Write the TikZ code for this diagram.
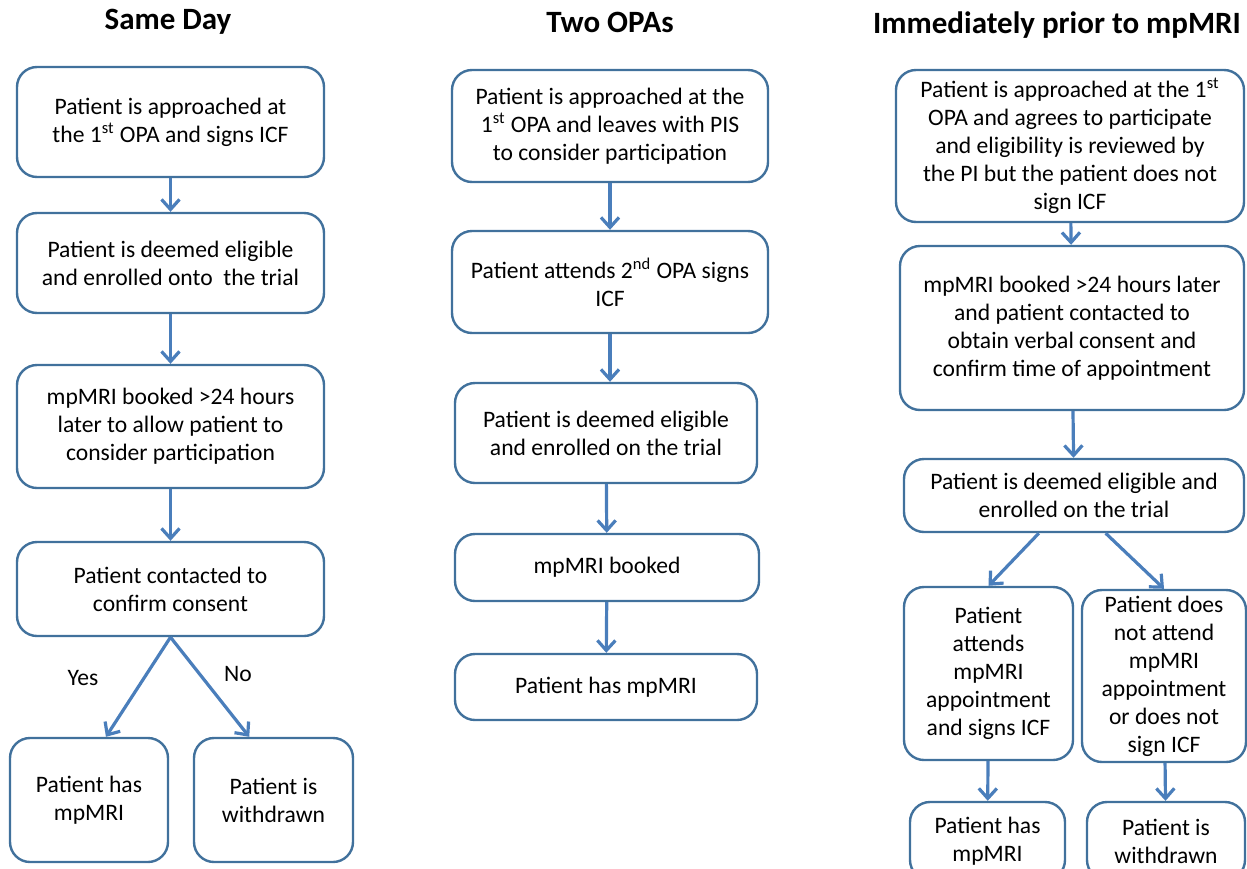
\documentclass[tikz,border=0pt]{standalone}
\usepackage{fontspec}
\setmainfont{Carlito}
\usetikzlibrary{arrows.meta}

\definecolor{boxline}{RGB}{65,113,156}
\definecolor{arrline}{RGB}{74,126,187}

\begin{document}
\begin{tikzpicture}[x=0.5pt,y=-0.5pt,
    box/.style={draw=boxline,line width=1.2pt,rounded corners=10pt,
        align=center,inner sep=2pt,
        font=\fontsize{11.8}{14}\selectfont},
    arr/.style={draw=arrline,line width=1.6pt,
        -{Straight Barb[length=5pt,width=9pt]}},
    title/.style={font=\fontsize{15.5}{18}\selectfont\bfseries},
    lbl/.style={font=\fontsize{11.8}{14}\selectfont}]
    \useasboundingbox (0,0) rectangle (1247,868);

    % Titles
    \node[title] (t1) at (168,22) {Same Day};
    \node[title] (t2) at (610,22) {Two OPAs};
    \node[title] (t3) at (1057,25) {Immediately prior to mpMRI};

    % Same Day
    \node[box,minimum width=153.5pt,minimum height=55pt] (a1) at (170.5,122)
        {Patient is approached at\\the 1\textsuperscript{st} OPA and signs ICF};
    \node[box,minimum width=153.5pt,minimum height=50pt] (a2) at (170.5,263)
        {Patient is deemed eligible\\and enrolled onto\ \ the trial};
    \node[box,minimum width=153.5pt,minimum height=61.5pt] (a3) at (170.5,426.5)
        {mpMRI booked >24 hours\\later to allow patient to\\consider participation};
    \node[box,minimum width=153.5pt,minimum height=47pt] (a4) at (170.5,589)
        {Patient contacted to\\confirm consent};
    \node[box,minimum width=79pt,minimum height=62pt] (a5) at (89,800)
        {Patient has\\mpMRI};
    \node[box,minimum width=79.5pt,minimum height=62pt] (a6) at (273.5,800)
        {Patient is\\withdrawn};
    \node[lbl] (yes) at (83,678) {Yes};
    \node[lbl] (no) at (238,674) {No};

    \draw[arr] (a1) -- (a2);
    \draw[arr] (a2) -- (a3);
    \draw[arr] (a3) -- (a4);
    \draw[arr] (a4.south) -- (a5.75);
    \draw[arr] (a4.south) -- (a6.111);

    % Two OPAs
    \node[box,minimum width=158pt,minimum height=56pt] (b1) at (610,126)
        {Patient is approached at the\\1\textsuperscript{st} OPA and leaves with PIS\\to consider participation};
    \node[box,minimum width=158pt,minimum height=51pt] (b2) at (610,282)
        {Patient attends 2\textsuperscript{nd} OPA signs\\ICF};
    \node[box,minimum width=151pt,minimum height=50pt] (b3) at (606,433)
        {Patient is deemed eligible\\and enrolled on the trial};
    \node[box,minimum width=152pt,minimum height=33.5pt] (b4) at (607,567.5)
        {mpMRI booked};
    \node[box,minimum width=151pt,minimum height=33pt] (b5) at (606,687)
        {Patient has mpMRI};

    \draw[arr] (b1) -- (b2);
    \draw[arr] (b2) -- (b2 |- b3.north);
    \draw[arr] (b3) -- (b4);
    \draw[arr] (b4) -- (b5);

    % Immediately prior to mpMRI
    \node[box,minimum width=174pt,minimum height=76pt] (c1) at (1070,146)
        {Patient is approached at the 1\textsuperscript{st}\\OPA and agrees to participate\\and eligibility is reviewed by\\the PI but the patient does not\\sign ICF};
    \node[box,minimum width=172pt,minimum height=82pt] (c2) at (1072,328)
        {mpMRI booked >24 hours later\\and patient contacted to\\obtain verbal consent and\\confirm time of appointment};
    \node[box,minimum width=170pt,minimum height=36.5pt] (c3) at (1074,495.5)
        {Patient is deemed eligible and\\enrolled on the trial};
    \node[box,minimum width=84.5pt,minimum height=86.5pt] (c4) at (988.5,673.5)
        {Patient\\attends\\mpMRI\\appointment\\and signs ICF};
    \node[box,minimum width=82pt,minimum height=86pt] (c5) at (1164,676)
        {Patient does\\not attend\\mpMRI\\appointment\\or does not\\sign ICF};
    \node[box,minimum width=77.5pt,minimum height=39pt] (c6) at (987.5,841)
        {Patient has\\mpMRI};
    \node[box,minimum width=79pt,minimum height=39pt] (c7) at (1166,841)
        {Patient is\\withdrawn};

    \draw[arr] (c1) -- (c2);
    \draw[arr] (c2) -- (c3);
    \draw[arr] (c3.227) -- (c4.north);
    \draw[arr] (c3.310) -- (c5.north);
    \draw[arr] (c4) -- (c6);
    \draw[arr] (c5) -- (c7);

\end{tikzpicture}
\end{document}
